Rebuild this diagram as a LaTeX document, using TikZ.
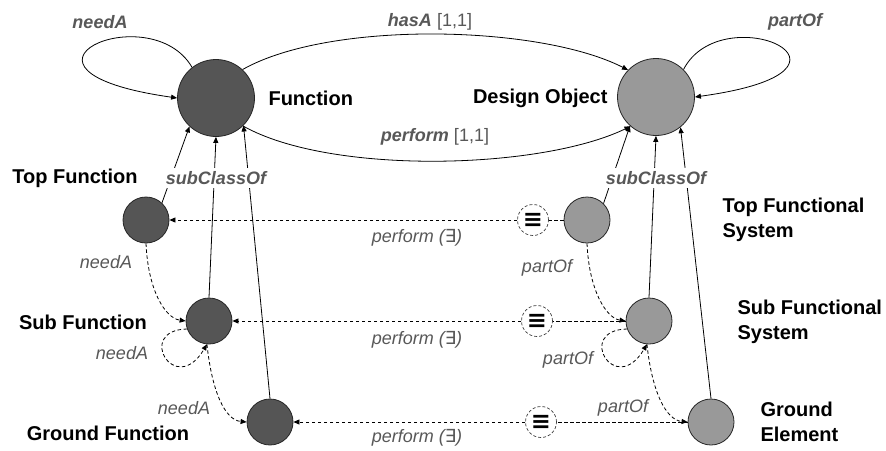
\documentclass[tikz,border=0pt]{standalone}
\usepackage{fontspec}
\setmainfont{Liberation Sans}
\newfontfamily\djv{DejaVu Sans}
\usetikzlibrary{arrows.meta}
\definecolor{dkc}{RGB}{85,85,85}
\definecolor{ltc}{RGB}{153,153,153}
\definecolor{lbl}{RGB}{88,88,88}
\begin{document}
\begin{tikzpicture}[x=1pt,y=-1pt,
  big/.style={circle,draw=black!85,line width=0.8pt,minimum size=77pt,inner sep=0},
  small/.style={circle,draw=black!85,line width=0.8pt,minimum size=46pt,inner sep=0},
  dk/.style={fill=dkc}, lt/.style={fill=ltc},
  eqc/.style={circle,draw=black!75,line width=0.7pt,dash pattern=on 3pt off 2pt,minimum size=31pt,inner sep=0,font=\djv\bfseries\fontsize{24}{24}\selectfont},
  conn/.style={line width=0.8pt,-{Triangle[length=6pt,width=5pt]}},
  dconn/.style={conn,dash pattern=on 3.5pt off 2.5pt},
  dline/.style={line width=0.8pt,dash pattern=on 3.5pt off 2.5pt},
  blab/.style={font=\bfseries\fontsize{20}{24.5}\selectfont},
  rel/.style={text=lbl,font=\bfseries\itshape\fontsize{18}{20}\selectfont},
  rrel/.style={text=lbl,font=\itshape\fontsize{18}{20}\selectfont},
  mix/.style={text=lbl,font=\fontsize{18}{20}\selectfont},
]
\useasboundingbox[fill=white] (0,0) rectangle (886,450);

% main nodes
\node[big,dk] (F) at (216,98) {};
\node[big,lt] (D) at (656,97) {};
\node[small,dk] (TF) at (146,220) {};
\node[small,dk] (SF) at (209,321) {};
\node[small,dk] (GF) at (270,422) {};
\node[small,lt] (TS) at (587,220) {};
\node[small,lt] (SS) at (649,321) {};
\node[small,lt] (GE) at (711,422) {};
\node[eqc] (E1) at (533,220) {≡};
\node[eqc] (E2) at (537,321) {≡};
\node[eqc] (E3) at (541,422) {≡};

% top relations
\draw[conn] (F.128) .. controls (150,-5) and (-20,70) .. (F.west);
\draw[conn] (D.45) .. controls (722,-5) and (892,70) .. (D.east);
\draw[conn] (F.47) .. controls (330,20) and (540,25) .. (D.136);
\draw[conn] (F.-46) .. controls (330,175) and (540,170) .. (D.-131);

% subClassOf
\draw[conn] (TF.47) -- (F.-133);
\draw[conn] (SF.north) -- (F.south);
\draw[conn] (GF.north) -- (F.-45);
\draw[conn] (TS.45) -- (D.-132);
\draw[conn] (SS.north) -- (D.south);
\draw[conn] (GE.north) -- (D.-51);
\node[rel,fill=white,inner sep=3pt] (sc1) at (216,178) {subClassOf};
\node[rel,fill=white,inner sep=3pt] (sc2) at (656,178) {subClassOf};

% perform (exists)
\draw[dline] (TS.west) -- (E1.east);
\draw[dconn] (E1.west) -- (TF.east);
\draw[dline] (SS.west) -- (E2.east);
\draw[dconn] (E2.west) -- (SF.east);
\draw[dline] (GE.west) -- (E3.east);
\draw[dconn] (E3.west) -- (GF.east);

% needA (left)
\draw[dconn] (TF.south) .. controls (148,290) and (165,318) .. (SF.west);
\draw[dconn] (SF.200) .. controls (135,330) and (175,398) .. (SF.-95);
\draw[dconn] (SF.-95) .. controls (212,392) and (225,420) .. (GF.west);

% partOf (right)
\draw[dconn] (TS.south) .. controls (589,290) and (606,318) .. (SS.west);
\draw[dconn] (SS.200) .. controls (575,330) and (615,398) .. (SS.-95);
\draw[dconn] (SS.-95) .. controls (652,392) and (666,420) .. (GE.west);

% labels
\node[rel] (l1) at (100,22) {needA};
\node[mix] (l2) at (430,22) {\textbf{\textit{hasA}} [1,1]};
\node[rel] (l3) at (795,22) {partOf};
\node[mix] (l4) at (435,137) {\textbf{\textit{perform}} [1,1]};

\node[blab,anchor=west] (t1) at (265,98) {Function};
\node[blab,anchor=east] (t2) at (611,98) {Design Object};
\node[blab] (t3) at (75,178) {Top Function};
\node[blab,anchor=west,align=left] (t4) at (719,220) {Top Functional\\System};
\node[blab] (t5) at (83,322) {Sub Function};
\node[blab,anchor=west,align=left] (t6) at (734,322) {Sub Functional\\System};
\node[blab] (t7) at (108,433) {Ground Function};
\node[blab,anchor=west,align=left] (t8) at (757,422) {Ground\\Element};

\node[rrel] (p1) at (417,238) {perform ({\djv ∃})};
\node[rrel] (p2) at (417,340) {perform ({\djv ∃})};
\node[rrel] (p3) at (417,438) {perform ({\djv ∃})};

\node[rrel] (n1) at (106,262) {needA};
\node[rrel] (n2) at (122,353) {needA};
\node[rrel] (n3) at (184,408) {needA};
\node[rrel] (o1) at (547,268) {partOf};
\node[rrel] (o2) at (568,360) {partOf};
\node[rrel] (o3) at (623,408) {partOf};
\end{tikzpicture}
\end{document}
